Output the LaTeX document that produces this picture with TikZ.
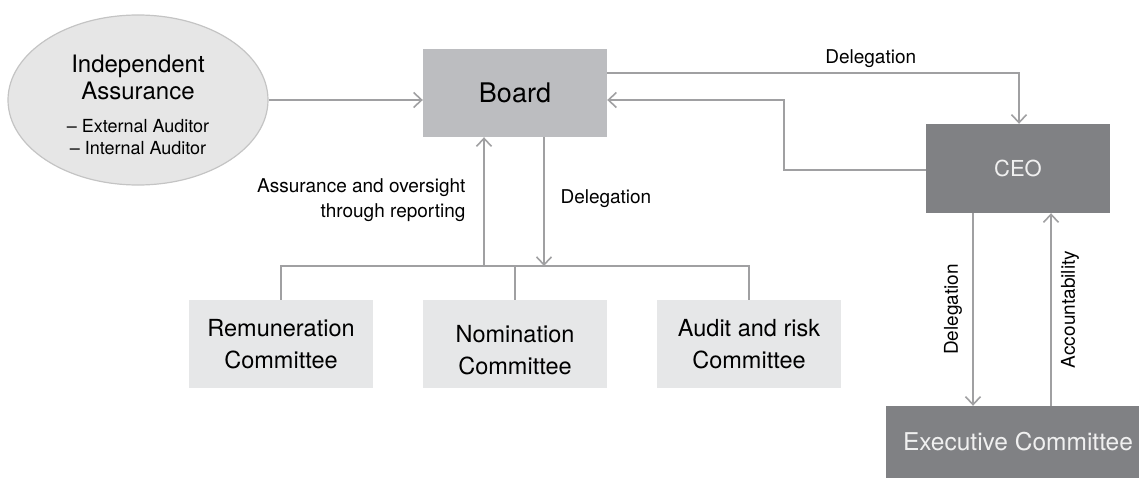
\documentclass[tikz,border=0pt]{standalone}
\usepackage{fontspec}
\setmainfont{TeX Gyre Heros}
\usetikzlibrary{arrows.meta,shapes.geometric}

\definecolor{wire}{HTML}{A0A0A2}
\definecolor{assurfill}{HTML}{E6E6E6}
\definecolor{assurline}{HTML}{C4C4C4}
\definecolor{boardfill}{HTML}{BCBDC0}
\definecolor{commfill}{HTML}{E6E7E8}
\definecolor{execfill}{HTML}{808184}
\tikzset{
  assure/.style={ellipse,fill=assurfill,draw=assurline,line width=1.2pt,
    minimum width=260,minimum height=170,inner sep=0pt,align=center,
    font=\fontsize{24}{27}\selectfont},
  boardbox/.style={rectangle,fill=boardfill,minimum width=184,minimum height=88,
    font=\fontsize{27}{30}\selectfont},
  commbox/.style={rectangle,fill=commfill,minimum width=184,minimum height=88,
    align=center,font=\fontsize{23.5}{32}\selectfont},
  execbox/.style={rectangle,fill=execfill,text=white!94!black},
  lbl/.style={font=\fontsize{19}{25}\selectfont},
  wire/.style={draw=wire,line width=1.6pt},
  flow/.style={wire,-{Straight Barb[length=8pt,width=15pt]}},
}

\begin{document}
\begin{tikzpicture}[x=1pt,y=-1pt]
  \useasboundingbox (0,0) rectangle (1139,489);
  % nodes
  \node [assure] (assur) at (138,100)
    {\rule{0pt}{28pt}Independent\\Assurance\\[6pt]
     {\fontsize{18}{22}\selectfont – External Auditor}\\[-5pt]
     {\fontsize{18}{22}\selectfont – Internal Auditor}};
  \node [boardbox] (board) at (515,93) {Board};
  \node [execbox,minimum width=184,minimum height=89,
    font=\fontsize{22}{26}\selectfont] (ceo) at (1018,168.5) {CEO};
  \node [execbox,minimum width=264,minimum height=72,
    font=\fontsize{24.5}{28}\selectfont] (exec) at (1018,442) {Executive Committee};
  \node [commbox] (rem) at (281,344) {Remuneration\\Committee};
  \node [commbox,label={[align=center,yshift=-6pt,
    font=\fontsize{23.5}{32}\selectfont]center:{Nomination\\Committee}}] (nom) at (515,344) {};
  \node [commbox] (aud) at (749,344) {Audit and risk\\Committee};
  \coordinate (bus) at (515,266);

  % board level
  \draw [flow] (assur.east) -- (assur.east -| board.west);
  \draw [flow] ([yshift=20]board.east) -| ([xshift=1]ceo.north)
    node [lbl,pos=0.32,above=1pt] {Delegation};
  \draw [flow] ([yshift=-1.5]ceo.west) -- ++(-142,0) |- ([yshift=-7]board.east);

  % committees
  \draw [wire] (rem.north) |- (bus) -| (aud.north);
  \draw [wire] (nom.north) -- (bus);
  \draw [flow] ([xshift=-31]bus) -- ([xshift=-31]board.south);
  \draw [flow] ([xshift=29]board.south) -- ([xshift=29]bus);
  \node [lbl,align=right,anchor=east] (reportlbl) at (469,200)
    {Assurance and oversight\\through reporting};
  \node [lbl,anchor=west] (delelbl) at (557,199) {Delegation};

  % executive
  \draw [flow] ([xshift=-45]ceo.south) -- ([xshift=-45]ceo.south |- exec.north)
    node [lbl,midway,rotate=90,yshift=20pt] {Delegation};
  \draw [flow] ([xshift=33]exec.north) -- ([xshift=33]exec.north |- ceo.south)
    node [lbl,midway,rotate=90,yshift=-19pt] {Accountability};
\end{tikzpicture}
\end{document}
